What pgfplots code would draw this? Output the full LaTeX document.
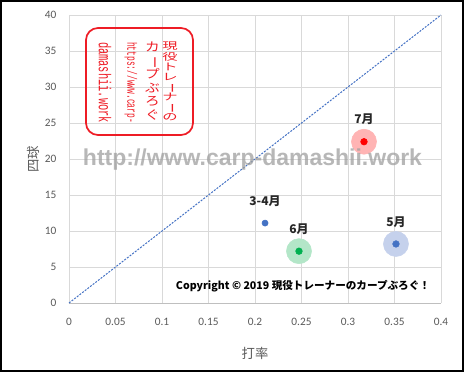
\documentclass[border=0pt]{standalone}
\usepackage{pgfplots}
\pgfplotsset{compat=1.18}
\usepackage{graphicx}
\usepackage{fontspec}
\setmainfont{Carlito}
\newfontfamily\cjk{Noto Sans CJK JP}
\newfontfamily\mono{Liberation Mono}
\newfontfamily\arialf{Liberation Sans}
\definecolor{tick}{HTML}{595959}
\definecolor{gridc}{HTML}{D9D9D9}
\definecolor{axisc}{HTML}{BFBFBF}
\definecolor{xblue}{HTML}{4472C4}
\definecolor{xgreen}{HTML}{00B050}
\definecolor{xred}{HTML}{FF0000}
\definecolor{hred}{HTML}{FFB4B4}
\definecolor{hgreen}{HTML}{B3E6C8}
\definecolor{hblue}{HTML}{C5D1EC}
\definecolor{stamp}{HTML}{EE1C25}
\definecolor{lab}{HTML}{262626}
\begin{document}
\begin{tikzpicture}
\begin{axis}[
  at={(51.75pt,-227.25pt)}, anchor=south west,
  scale only axis, width=279pt, height=216pt,
  xmin=0, xmax=0.4, ymin=0, ymax=40,
  xtick={0,0.05,0.1,0.15,0.2,0.25,0.3,0.35,0.4},
  ytick={0,5,10,15,20,25,30,35,40},
  grid=major, major grid style={draw=gridc, line width=0.75pt},
  axis x line*=bottom, axis y line*=left,
  x axis line style={draw=axisc, line width=0.75pt, -},
  y axis line style={draw=none},
  major tick length=0pt,
  /pgf/number format/assume math mode=true,
  tick label style={font=\fontsize{8.5}{10}\selectfont, text=tick},
  xticklabel style={/pgf/number format/fixed, /pgf/number format/precision=2, yshift=-7.5pt},
  yticklabel style={xshift=-6pt},
  xlabel={\cjk 打率},
  ylabel={\cjk 四球},
  label style={font=\fontsize{10}{12}\selectfont, text=tick},
  xlabel style={at={(axis description cs:0.5,-0.1736)}, anchor=center},
  ylabel style={at={(axis description cs:-0.0968,0.5)}, anchor=center},
  clip=false,
  point meta=explicit symbolic,
  nodes near coords style={font=\cjk\bfseries\fontsize{9}{10}\selectfont, text=lab, anchor=south, yshift=9pt},
]
% diagonal reference line
\addplot[draw=xblue, line width=0.75pt, dash pattern=on 1.5pt off 1pt, forget plot] coordinates {(0,0) (0.4,40)};
% halos
\addplot[only marks, mark=*, mark size=9.4pt, draw=hred, fill=hred, mark options={draw=hred, fill=hred}] coordinates {(0.3172,22.4)};
\addplot[only marks, mark=*, mark size=9.4pt, draw=hgreen, fill=hgreen, mark options={draw=hgreen, fill=hgreen}] coordinates {(0.2473,7.2)};
\addplot[only marks, mark=*, mark size=9.4pt, draw=hblue, fill=hblue, mark options={draw=hblue, fill=hblue}] coordinates {(0.3516,8.2)};
% points with labels
\addplot[only marks, mark=*, mark size=2.3pt, draw=xblue, fill=xblue, mark options={draw=xblue, fill=xblue}, nodes near coords] coordinates {(0.2108,11.1) [3-4月]};
\addplot[only marks, mark=*, mark size=2.5pt, draw=xgreen, fill=xgreen, mark options={draw=xgreen, fill=xgreen}, nodes near coords] coordinates {(0.2473,7.2) [6月]};
\addplot[only marks, mark=*, mark size=2.5pt, draw=xred, fill=xred, mark options={draw=xred, fill=xred}, nodes near coords] coordinates {(0.3172,22.4) [7月]};
\addplot[only marks, mark=*, mark size=2.5pt, draw=xblue, fill=xblue, mark options={draw=xblue, fill=xblue}, nodes near coords] coordinates {(0.3516,8.2) [5月]};
\end{axis}
\begin{scope}[x=0.75pt, y=-0.75pt]
  % watermark
  \node[anchor=base, inner sep=0pt, text=gray!75, opacity=0.75] at (252.5,165)
    {\resizebox{254.25pt}{!}{\arialf\bfseries http://www.carp-damashii.work}};
  % copyright
  \node[anchor=base, inner sep=0pt, text=black] at (303,289)
    {\resizebox{190.5pt}{!}{\cjk\bfseries Copyright © 2019 現役トレーナーのカープぶろぐ！}};
  % stamp
  \draw[stamp, line width=1.3pt, rounded corners=9pt] (86,28) rectangle (193,135);
  \node[inner sep=0pt, text=stamp] at (170,82.5)
    {\resizebox*{11.5pt}{60.75pt}{\cjk\renewcommand\arraystretch{0.8}\begin{tabular}{@{}c@{}}現\\役\\ト\\レ\\\rotatebox[origin=c]{-90}{ー}\\ナ\\\rotatebox[origin=c]{-90}{ー}\\の\end{tabular}}};
  \node[inner sep=0pt, text=stamp] at (152.5,82.5)
    {\resizebox*{11pt}{60.75pt}{\cjk\renewcommand\arraystretch{0.9}\begin{tabular}{@{}c@{}}カ\\\rotatebox[origin=c]{-90}{ー}\\プ\\ぶ\\ろ\\ぐ\end{tabular}}};
  \node[inner sep=0pt, text=stamp] at (131,82.5)
    {\rotatebox{-90}{\resizebox*{60.75pt}{9.5pt}{\mono https://www.carp-}}};
  \node[inner sep=0pt, text=stamp] at (105,82.5)
    {\rotatebox{-90}{\resizebox*{60.75pt}{9.5pt}{\mono damashii.work}}};
  % outer frame
  \draw[black, line width=1.5pt] (1,1) rectangle (463,371);
\end{scope}
\end{tikzpicture}
\end{document}
